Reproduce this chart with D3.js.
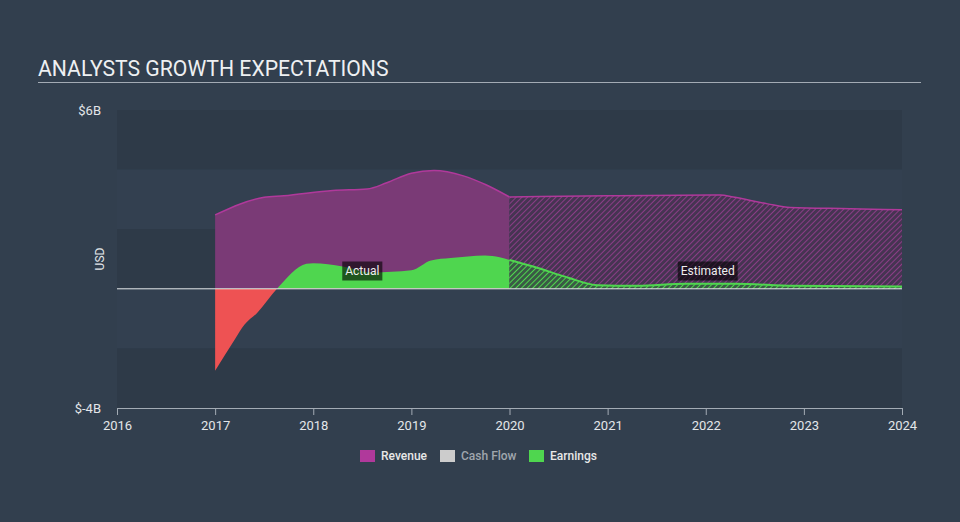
<!DOCTYPE html>
<html>
<head>
<meta charset="utf-8">
<script src="https://cdn.jsdelivr.net/npm/d3@7"></script>
<style>
  html, body { margin: 0; padding: 0; background: #323f4e; }
  svg { display: block; font-family: Roboto, "Open Sans", sans-serif; }
</style>
</head>
<body>
<svg id="chart" width="960" height="522"></svg>
<script>
// ---- data ----
const xTicks = [2016, 2017, 2018, 2019, 2020, 2021, 2022, 2023, 2024];
const yTickLabels = ["$6B", "$-4B"];
const yTickValues = [6, -4];
const splitYear = 2020;

// Revenue (USD billions)
const revenueActualX = [2017, 2017.5, 2017.7, 2018.2, 2018.55, 2018.75, 2019, 2019.23, 2019.53, 2019.76, 2020];
const revenueActualY = [2.48, 3.07, 3.12, 3.30, 3.35, 3.56, 3.88, 3.97, 3.79, 3.49, 3.08];
const revenueEstX = [2020, 2021, 2022.15, 2022.28, 2022.63, 2022.86, 2023.47, 2024];
const revenueEstY = [3.08, 3.12, 3.15, 3.08, 2.85, 2.73, 2.69, 2.65];

// Earnings (USD billions)
const earningsActualX = [2017, 2017.2, 2017.3, 2017.43, 2017.63, 2017.93, 2018, 2018.3, 2018.6, 2019, 2019.2, 2019.4, 2019.75, 2019.9, 2020];
const earningsActualY = [-2.75, -1.7, -1.2, -0.8, 0, 0.84, 0.86, 0.75, 0.55, 0.62, 0.95, 1.03, 1.12, 1.06, 0.97];
const earningsEstX = [2020, 2020.25, 2020.6, 2020.9, 2021.3, 2021.8, 2022.3, 2022.9, 2024];
const earningsEstY = [0.97, 0.74, 0.37, 0.12, 0.10, 0.17, 0.17, 0.10, 0.08];

const legendLabels = ["Revenue", "Cash Flow", "Earnings"];
const legendColors = ["#b0399b", "#cccccc", "#4fd64f"];
const legendTextColors = ["#e8e8e8", "#a0a6ad", "#e8e8e8"];

// ---- layout ----
const svg = d3.select("#chart");
const W = 960, H = 522;
const pLeft = 117, pRight = 902, pTop = 110, pBottom = 408;

const x = d3.scaleLinear().domain([2016, 2024]).range([pLeft, pRight]);
const y = d3.scaleLinear().domain([-4, 6]).range([pBottom, pTop]);

svg.append("rect").attr("width", W).attr("height", H).attr("fill", "#323f4e");

// defs: hatch patterns + clips
const defs = svg.append("defs");
function hatch(id, bg, stroke) {
  const p = defs.append("pattern").attr("id", id).attr("patternUnits", "userSpaceOnUse")
    .attr("width", 4).attr("height", 4).attr("patternTransform", "rotate(45)");
  p.append("rect").attr("width", 4).attr("height", 4).attr("fill", bg);
  p.append("line").attr("x1", 0).attr("y1", 0).attr("x2", 0).attr("y2", 4)
    .attr("stroke", stroke).attr("stroke-width", 2);
}
hatch("hatchRev", "#463452", "#8a3d86");
hatch("hatchEarn", "#3a5a45", "#4fd64f");

defs.append("clipPath").attr("id", "clipPos").append("rect")
  .attr("x", pLeft).attr("y", pTop).attr("width", pRight - pLeft).attr("height", y(0) - pTop);
defs.append("clipPath").attr("id", "clipNeg").append("rect")
  .attr("x", pLeft).attr("y", y(0)).attr("width", pRight - pLeft).attr("height", pBottom - y(0));

// background bands
const bands = [[6, 4, "#2e3a48"], [4, 2, "#334050"], [2, 0, "#2e3a48"], [0, -2, "#334050"], [-2, -4, "#2e3a48"]];
svg.append("g").selectAll("rect").data(bands).join("rect")
  .attr("x", pLeft).attr("width", pRight - pLeft)
  .attr("y", d => y(d[0])).attr("height", d => y(d[1]) - y(d[0]))
  .attr("fill", d => d[2]);

// title
svg.append("text").attr("x", 38).attr("y", 76).text("ANALYSTS GROWTH EXPECTATIONS")
  .attr("fill", "#eef0f2").attr("font-size", 21.2).attr("font-weight", 400);
svg.append("line").attr("x1", 38).attr("x2", 921).attr("y1", 82.5).attr("y2", 82.5)
  .attr("stroke", "#a3abb4").attr("stroke-width", 1);

const curve = d3.curveMonotoneX;
const zip = (xs, ys) => xs.map((v, i) => [v, ys[i]]);
const area = d3.area().x(d => x(d[0])).y0(y(0)).y1(d => y(d[1])).curve(curve);
const line = d3.line().x(d => x(d[0])).y(d => y(d[1])).curve(curve);

const revA = zip(revenueActualX, revenueActualY);
const revE = zip(revenueEstX, revenueEstY);
const earnA = zip(earningsActualX, earningsActualY);
const earnE = zip(earningsEstX, earningsEstY);

// revenue
svg.append("path").datum(revA).attr("d", area).attr("fill", "#7a3a76");
svg.append("path").datum(revE).attr("d", area).attr("fill", "url(#hatchRev)");
svg.append("path").datum(revA).attr("d", line).attr("fill", "none").attr("stroke", "#b0399b").attr("stroke-width", 1.5);
svg.append("path").datum(revE).attr("d", line).attr("fill", "none").attr("stroke", "#b0399b").attr("stroke-width", 1.5);

// earnings
svg.append("path").datum(earnA).attr("d", area).attr("fill", "#4fd64f").attr("clip-path", "url(#clipPos)");
svg.append("path").datum(earnA).attr("d", area).attr("fill", "#ee5253").attr("clip-path", "url(#clipNeg)");
svg.append("path").datum(earnE).attr("d", area).attr("fill", "url(#hatchEarn)");
svg.append("path").datum(earnE).attr("d", line).attr("fill", "none").attr("stroke", "#4fd64f").attr("stroke-width", 2);

// zero line
svg.append("line").attr("x1", pLeft).attr("x2", pRight).attr("y1", y(0)).attr("y2", y(0))
  .attr("stroke", "#e6e9ec").attr("stroke-width", 1);

// x axis
const xAxis = svg.append("g").attr("transform", `translate(0,${pBottom})`)
  .call(d3.axisBottom(x).tickValues(xTicks).tickFormat(d3.format("d")).tickSize(7).tickSizeOuter(0));
xAxis.select(".domain").attr("stroke", "#a3abb4");
xAxis.selectAll(".tick line").attr("stroke", "#a3abb4");
xAxis.selectAll(".tick text").attr("fill", "#e3e6e9").attr("font-size", 13).attr("dy", "0.95em")
  .attr("font-family", "Roboto, sans-serif");

// y labels
svg.append("g").selectAll("text").data(yTickValues).join("text")
  .attr("x", 101).attr("y", d => y(d)).attr("dy", "0.35em").attr("text-anchor", "end")
  .attr("fill", "#e3e6e9").attr("font-size", 13).text((d, i) => yTickLabels[i]);
svg.append("text").attr("transform", `translate(104,${y(1)}) rotate(-90)`)
  .attr("text-anchor", "middle").attr("fill", "#e3e6e9").attr("font-size", 12).text("USD");

// Actual / Estimated labels
function tag(cx, cy, txt) {
  const g = svg.append("g");
  const t = g.append("text").attr("x", cx).attr("y", cy).attr("dy", "0.35em").attr("text-anchor", "middle")
    .attr("fill", "#eeeeee").attr("font-size", 12).text(txt);
  const bb = t.node().getBBox();
  g.insert("rect", "text").attr("x", bb.x - 3).attr("y", cy - 9.5).attr("width", bb.width + 6).attr("height", 19)
    .attr("fill", "rgba(0,0,0,0.6)");
}
tag(x(2018.5), 271, "Actual");
tag(x(2022.02), 271, "Estimated");

// legend
const legX = [360, 440, 529];
const lg = svg.append("g").selectAll("g").data(legendLabels).join("g")
  .attr("transform", (d, i) => `translate(${legX[i]},456)`);
lg.append("rect").attr("x", 0).attr("y", -6).attr("width", 15).attr("height", 12)
  .attr("fill", (d, i) => legendColors[i]);
lg.append("text").attr("x", 21).attr("y", 0).attr("dy", "0.35em").attr("font-size", 12).attr("font-weight", 500)
  .attr("fill", (d, i) => legendTextColors[i]).text(d => d);
</script>
</body>
</html>
